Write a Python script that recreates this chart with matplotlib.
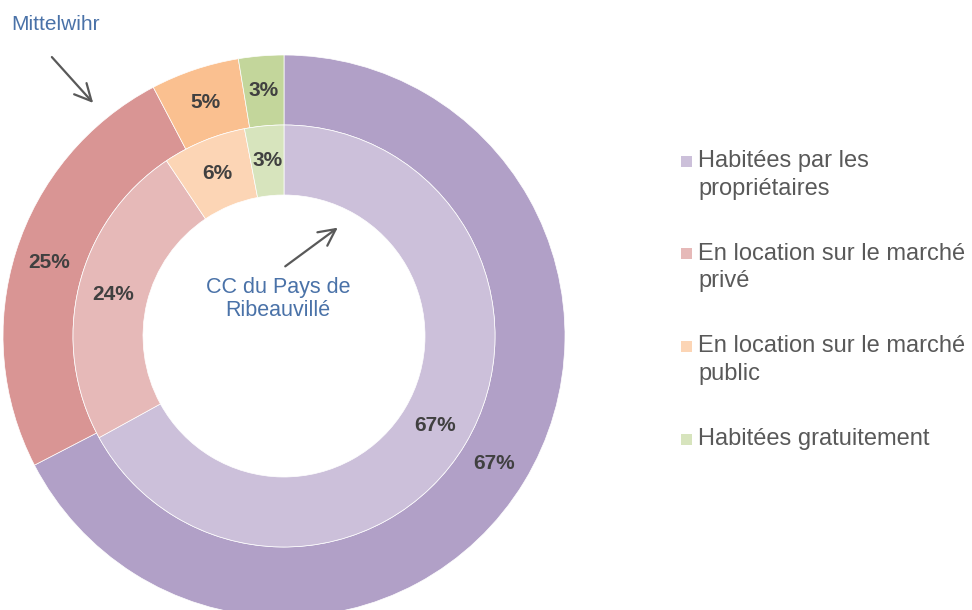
import matplotlib.pyplot as plt
from matplotlib.patches import Rectangle

plt.rcParams['font.family'] = ['Liberation Sans', 'DejaVu Sans']

categories = ["Habitées par les\npropriétaires",
              "En location sur le marché\nprivé",
              "En location sur le marché\npublic",
              "Habitées gratuitement"]
mittelwihr = [67.4, 24.9, 5.1, 2.6]      # outer ring
cc_ribeauville = [67.0, 23.6, 6.4, 3.0]  # inner ring

outer_colors = ["#B1A0C7", "#D99594", "#FAC090", "#C3D69B"]
inner_colors = ["#CCC0DA", "#E6B9B8", "#FCD5B5", "#D7E4BD"]

W, H = 972, 610
fig = plt.figure(figsize=(W / 100, H / 100), dpi=100)
ax = fig.add_axes([0, 0, 1, 1])

cx, cy = 284, H - 336
r_out, r_mid, r_in = 281, 211, 141

lbl = dict(fontsize=15, fontweight="bold", color="#404040")
ax.pie(mittelwihr, radius=r_out, center=(cx, cy), colors=outer_colors,
       startangle=90, counterclock=False, autopct="%.0f%%", pctdistance=0.875,
       wedgeprops=dict(width=r_out - r_mid, edgecolor="white", linewidth=0.5),
       textprops=lbl)
ax.pie(cc_ribeauville, radius=r_mid, center=(cx, cy),
       colors=inner_colors, startangle=90, counterclock=False,
       autopct="%.0f%%", pctdistance=(r_mid + r_in) / 2 / r_mid,
       wedgeprops=dict(width=r_mid - r_in, edgecolor="white", linewidth=0.5),
       textprops=lbl)

ax.set_xlim(0, W)
ax.set_ylim(0, H)
ax.set_aspect("equal")
ax.axis("off")

blue = "#4A72A8"
arrow = dict(arrowstyle="->", color="#595959", lw=1.6, mutation_scale=30)
ax.text(55, H - 25, "Mittelwihr", color=blue, fontsize=15, ha="center", va="center")
ax.annotate("", xy=(95, H - 105), xytext=(50, H - 55), arrowprops=arrow)
ax.text(278, H - 299, "CC du Pays de\nRibeauvillé", color=blue, fontsize=15.5,
        ha="center", va="center", linespacing=1.15)
ax.annotate("", xy=(340, H - 226), xytext=(283, H - 268), arrowprops=arrow)

# legend drawn by hand: square aligned with the first line of each label
for i, (name, col) in enumerate(zip(categories, inner_colors)):
    y = H - 161 - i * 92.7
    ax.add_patch(Rectangle((681, y - 5.5), 11, 11, facecolor=col, edgecolor="none"))
    ax.text(698, y + 11, name, fontsize=17, color="#595959", ha="left", va="top",
            linespacing=1.33)

fig.savefig("out.png", dpi=100)
